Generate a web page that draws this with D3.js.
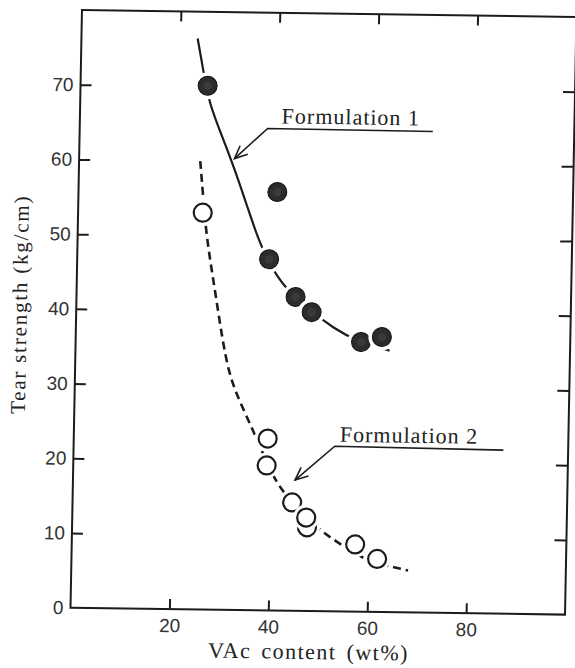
<!DOCTYPE html>
<html>
<head>
<meta charset="utf-8">
<script src="https://cdn.jsdelivr.net/npm/d3@7"></script>
<style>
  html, body { margin: 0; padding: 0; background: #fff; }
  svg { display: block; }
</style>
</head>
<body>
<svg id="chart" width="575" height="668"></svg>
<script>
// ---- data ----
const xTicks = [20, 40, 60, 80];
const yTicks = [0, 10, 20, 30, 40, 50, 60, 70];
const yTicksRight = [10, 20, 30, 40, 50, 60, 70];

// Formulation 1 (filled markers)
const f1X = [25.7, 40.2, 38.8, 44.3, 47.6, 57.7, 61.9];
const f1Y = [70.1, 56.0, 47.0, 42.0, 40.0, 36.1, 36.8];
// Formulation 2 (open markers)
const f2X = [25.2, 39.2, 39.1, 44.4, 47.5, 47.3, 57.3, 61.8];
const f2Y = [53.1, 23.0, 19.4, 14.5, 11.2, 12.5, 9.0, 7.1];

// fitted trend curves
const f1CurveX = [23.5, 24.8, 26.1, 28.8, 31.6, 34.3, 36.8, 40.3, 45.1, 52.7, 56.7, 63.5];
const f1CurveY = [76.4, 72.0, 67.7, 63.4, 58.8, 53.8, 49.1, 44.6, 41.2, 37.6, 36.3, 35.0];
const f2CurveX = [24.5, 25.2, 25.9, 27.0, 28.2, 29.6, 31.2, 33.4, 36.2, 38.3, 41.1, 45.5, 50.1, 54.2, 59.0, 68.1];
const f2CurveY = [60.0, 55.4, 50.8, 46.3, 41.9, 36.4, 31.4, 27.9, 24.1, 21.0, 17.0, 13.6, 10.8, 9.1, 6.9, 5.6];

const seriesNames = ["Formulation 1", "Formulation 2"];
const xTitle = "VAc content (wt%)";
const yTitle = "Tear strength (kg/cm)";

// ---- layout ----
const origin = { x: 70.5, y: 607.7 };
const W = 494.5, H = 597.7;
const ink = "#1c1c1c";

const x = d3.scaleLinear().domain([0, 100]).range([0, W]);
const y = d3.scaleLinear().domain([0, 80]).range([H, 0]);

const svg = d3.select("#chart");
svg.append("rect").attr("width", 575).attr("height", 668).attr("fill", "#fff");

// the printed page sits slightly askew
const page = svg.append("g")
  .attr("transform",
    `translate(${origin.x},${origin.y}) matrix(1,0.014,-0.0192,1,0,0) translate(${-origin.x},${-origin.y})`);

const g = page.append("g").attr("transform", `translate(${origin.x},${origin.y - H})`);

// ---- frame ----
g.append("rect")
  .attr("width", W).attr("height", H)
  .attr("fill", "none").attr("stroke", ink).attr("stroke-width", 2);

const tickFont = "'Liberation Sans', Arial, sans-serif";

function styleAxis(sel) {
  sel.select(".domain").remove();
  sel.selectAll(".tick line").attr("stroke", ink).attr("stroke-width", 2);
  sel.selectAll(".tick text")
    .attr("fill", "#333").style("font-family", tickFont).style("font-size", "19px");
}

g.append("g").attr("transform", `translate(0,${H})`)
  .call(d3.axisBottom(x).tickValues(xTicks).tickSizeInner(-10).tickSizeOuter(0).tickPadding(9.5))
  .call(styleAxis);

g.append("g")
  .call(d3.axisLeft(y).tickValues(yTicks).tickSizeInner(-11).tickSizeOuter(0).tickPadding(7))
  .call(styleAxis)
  .call(s => s.selectAll(".tick").filter(d => d === 0).select("line").remove());

g.append("g")
  .call(d3.axisTop(x).tickValues(xTicks).tickSizeInner(-10).tickSizeOuter(0).tickFormat(""))
  .call(styleAxis);

g.append("g").attr("transform", `translate(${W},0)`)
  .call(d3.axisRight(y).tickValues(yTicksRight).tickSizeInner(-12).tickSizeOuter(0).tickFormat(""))
  .call(styleAxis);

// ---- axis titles ----
const serif = "'Liberation Serif', 'Times New Roman', serif";
g.append("text")
  .attr("x", x(48.3)).attr("y", H + 48)
  .attr("text-anchor", "middle")
  .attr("fill", "#222")
  .style("font-family", serif).style("font-size", "22px")
  .style("letter-spacing", "1.5px").style("word-spacing", "3px")
  .text(xTitle);

g.append("text")
  .attr("transform", `translate(-49.5,${y(40.5)}) rotate(-90)`)
  .attr("text-anchor", "middle")
  .attr("fill", "#222")
  .style("font-family", serif).style("font-size", "21px")
  .style("letter-spacing", "1.8px")
  .text(yTitle);

// ---- trend curves ----
const line = d3.line().x(d => x(d[0])).y(d => y(d[1])).curve(d3.curveBasis);

g.append("path")
  .datum(d3.zip(f1CurveX, f1CurveY))
  .attr("d", line)
  .attr("fill", "none").attr("stroke", ink).attr("stroke-width", 2.2);

g.append("path")
  .datum(d3.zip(f2CurveX, f2CurveY))
  .attr("d", line)
  .attr("fill", "none").attr("stroke", ink).attr("stroke-width", 2.6)
  .attr("stroke-dasharray", "8,5");

// ---- markers (white ring keeps the curve off each marker) ----
const rFill = 9.5, rOpen = 9;

const f1 = g.append("g").selectAll("g").data(d3.zip(f1X, f1Y)).join("g")
  .attr("transform", d => `translate(${x(d[0])},${y(d[1])})`);
f1.append("circle").attr("r", rFill + 4).attr("fill", "#fff");
f1.append("circle").attr("r", rFill).attr("fill", "#2c2c2c").attr("stroke", "#111").attr("stroke-width", 1);
f1.append("circle").attr("r", rFill * 0.45).attr("fill", "#3a3a3a");

const f2 = g.append("g").selectAll("g").data(d3.zip(f2X, f2Y)).join("g")
  .attr("transform", d => `translate(${x(d[0])},${y(d[1])})`);
f2.append("circle").attr("r", rOpen + 4).attr("fill", "#fff");
f2.append("circle").attr("r", rOpen).attr("fill", "#fff").attr("stroke", ink).attr("stroke-width", 2.2);

// ---- callouts ----
const callouts = [
  { name: seriesNames[0], text: [40.8, 65.2], under: [[38.0, 64.5], [71.4, 64.4]], tip: [31.4, 60.4] },
  { name: seriesNames[1], text: [53.8, 22.7], under: [[52.8, 22.1], [86.9, 21.9]], tip: [44.9, 17.5] }
];

callouts.forEach(c => {
  const a = c.under[0];
  g.append("text")
    .attr("x", x(c.text[0])).attr("y", y(c.text[1]))
    .attr("fill", "#222")
    .style("font-family", serif).style("font-size", "22px")
    .style("letter-spacing", "1px")
    .text(c.name);
  g.append("path")
    .attr("d", d3.line()([[x(c.under[1][0]), y(c.under[1][1])], [x(a[0]), y(a[1])], [x(c.tip[0]), y(c.tip[1])]]))
    .attr("fill", "none").attr("stroke", ink).attr("stroke-width", 1.6);
  // open arrow head
  const tx = x(c.tip[0]), ty = y(c.tip[1]);
  const ang = Math.atan2(y(a[1]) - ty, x(a[0]) - tx);
  const len = 14, spread = 0.42;
  const p1 = [tx + len * Math.cos(ang + spread), ty + len * Math.sin(ang + spread)];
  const p2 = [tx + len * Math.cos(ang - spread), ty + len * Math.sin(ang - spread)];
  g.append("path")
    .attr("d", d3.line()([p1, [tx, ty], p2]))
    .attr("fill", "none").attr("stroke", ink).attr("stroke-width", 1.6);
});
</script>
</body>
</html>
